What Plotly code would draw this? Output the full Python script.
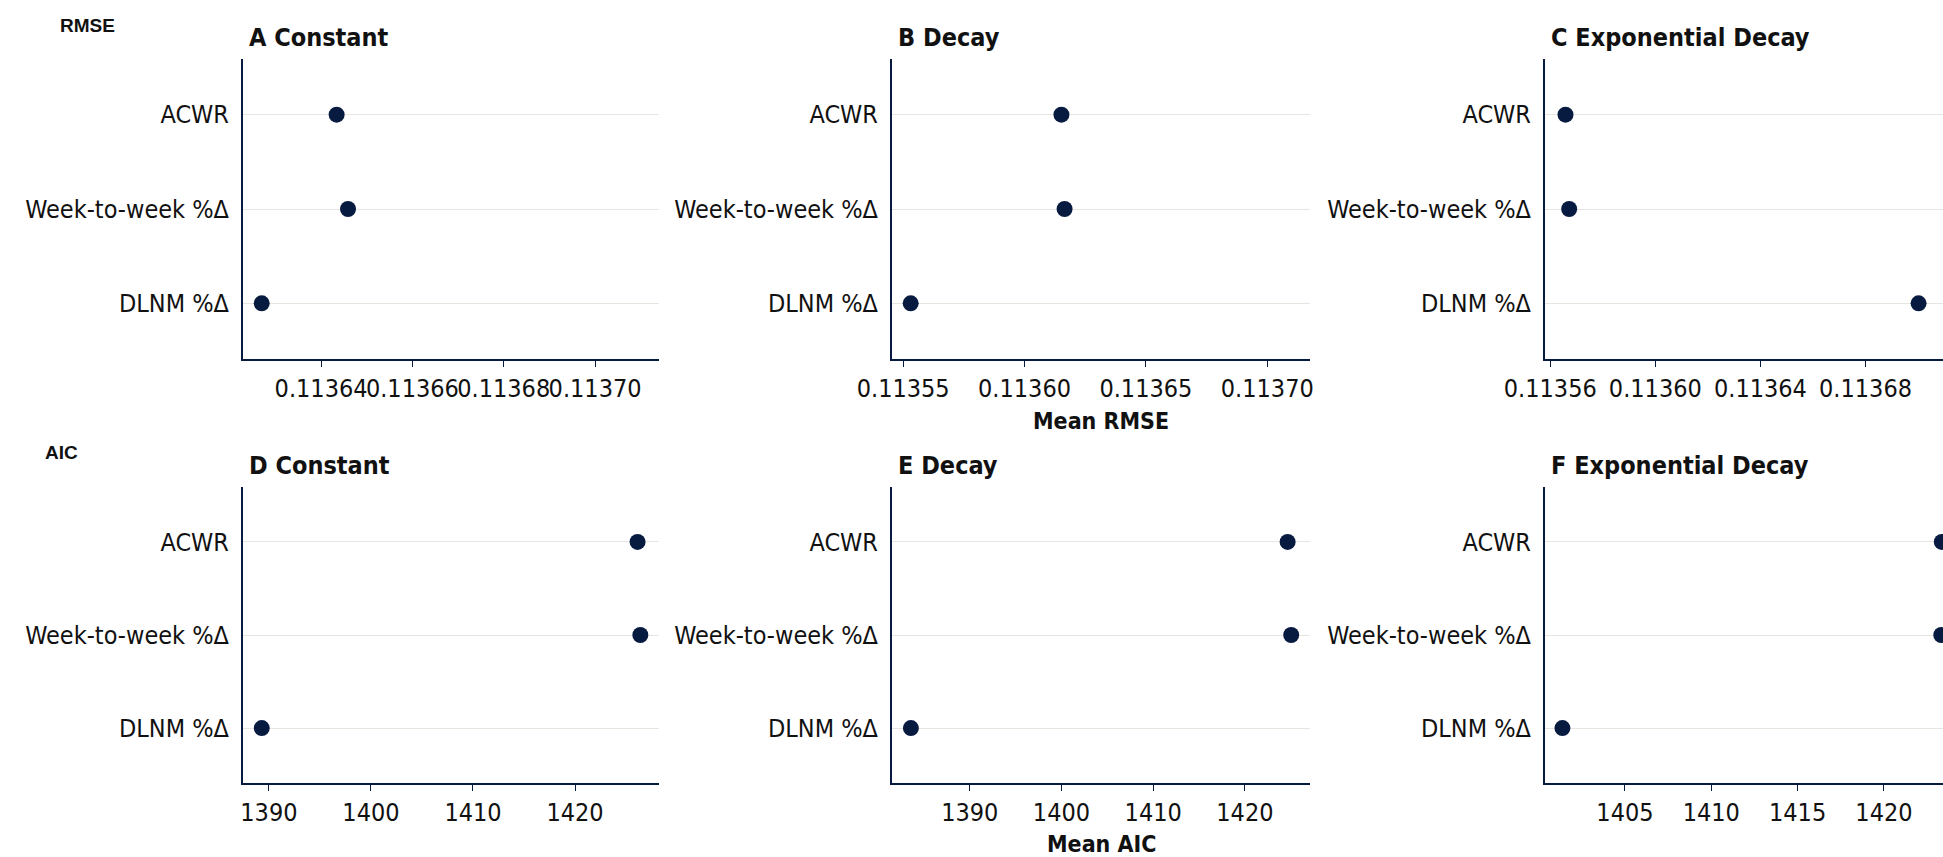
import plotly.graph_objects as go

# ---------------- data ----------------
categories = ["DLNM %Δ", "Week-to-week %Δ", "ACWR"]

rmse_constant = [0.1136270, 0.1136459, 0.1136434]
rmse_decay = [0.1135531, 0.1136165, 0.1136152]
rmse_exp_decay = [0.1137002, 0.1135672, 0.1135658]

aic_constant = [1389.30, 1426.40, 1426.13]
aic_decay = [1383.58, 1425.05, 1424.66]
aic_exp_decay = [1401.38, 1423.32, 1423.35]

panel_titles = ["A Constant", "B Decay", "C Exponential Decay",
                "D Constant", "E Decay", "F Exponential Decay"]
row_headers = ["RMSE", "AIC"]
axis_titles = ["Mean RMSE", "Mean AIC"]

# ---------------- style / layout ----------------
W, H = 1943, 857
NAVY = "#071a40"
GRID = "#e8e5e1"
FONT = "DejaVu Sans Condensed, DejaVu Sans, sans-serif"
TICK_SIZE = 25


def fx(p):
    return min(p / W, 1.0)


def fy(p):
    return (H - p) / H


col_px = [(243, 659), (892, 1310), (1545, 1943)]
row_px = [(59, 359), (487, 783)]

x_ranges = [
    [0.1136229, 0.1137140],
    [0.1135454, 0.1137176],
    [0.1135580, 0.1137095],
    [1387.46, 1428.23],
    [1381.52, 1427.10],
    [1400.37, 1423.42],
]
x_dticks = [0.00002, 0.00005, 0.00004, 10, 10, 5]
x_formats = [".5f", ".5f", ".5f", "d", "d", "d"]

series = [rmse_constant, rmse_decay, rmse_exp_decay,
          aic_constant, aic_decay, aic_exp_decay]

fig = go.Figure()
layout = dict(
    width=W, height=H,
    margin=dict(l=0, r=0, t=0, b=0, autoexpand=False),
    paper_bgcolor="white", plot_bgcolor="white",
    showlegend=False,
    font=dict(family=FONT, color="#111111", size=TICK_SIZE),
)
annotations = []

for i, vals in enumerate(series):
    n = i + 1
    r, c = divmod(i, 3)
    xs = "" if n == 1 else str(n)
    fig.add_trace(go.Scatter(
        x=vals, y=categories, mode="markers",
        marker=dict(size=16, color=NAVY),
        xaxis="x" + xs, yaxis="y" + xs,
        hoverinfo="x+y",
    ))
    x0, x1 = col_px[c]
    y0, y1 = row_px[r]
    layout["xaxis" + xs] = dict(
        domain=[fx(x0), fx(x1)], anchor="y" + xs,
        range=x_ranges[i], dtick=x_dticks[i], tick0=0,
        tickformat=x_formats[i], tickangle=0, automargin=False,
        showgrid=False, zeroline=False,
        showline=True, linecolor=NAVY, linewidth=2,
        ticks="outside", ticklen=6, tickcolor=NAVY, tickwidth=1,
        tickfont=dict(family=FONT, size=TICK_SIZE, color="#111111"),
    )
    layout["yaxis" + xs] = dict(
        domain=[fy(y1), fy(y0)], anchor="x" + xs,
        type="category", categoryorder="array", categoryarray=categories,
        range=[-0.59, 2.59], automargin=False,
        showgrid=True, gridcolor=GRID, gridwidth=1, zeroline=False,
        showline=True, linecolor=NAVY, linewidth=2,
        ticks="", ticklabelstandoff=7,
        tickfont=dict(family=FONT, size=TICK_SIZE, color="#111111"),
    )
    annotations.append(dict(
        text="<b>" + panel_titles[i] + "</b>",
        xref="paper", yref="paper",
        x=fx(x0 + 4), y=fy(37 if r == 0 else 465),
        xanchor="left", yanchor="middle", showarrow=False,
        font=dict(family=FONT, size=25, color="#111111"),
    ))

# row headers
annotations.append(dict(text="<b>" + row_headers[0] + "</b>", xref="paper", yref="paper",
                        x=fx(58), y=fy(25), xanchor="left", yanchor="middle",
                        showarrow=False,
                        font=dict(family="Liberation Sans, Arial", size=19, color="#111111")))
annotations.append(dict(text="<b>" + row_headers[1] + "</b>", xref="paper", yref="paper",
                        x=fx(43), y=fy(453), xanchor="left", yanchor="middle",
                        showarrow=False,
                        font=dict(family="Liberation Sans, Arial", size=19, color="#111111")))

# axis titles under middle column
mid = (col_px[1][0] + col_px[1][1]) / 2
annotations.append(dict(text="<b>" + axis_titles[0] + "</b>", xref="paper", yref="paper",
                        x=fx(mid), y=fy(421), xanchor="center", yanchor="middle",
                        showarrow=False, font=dict(family=FONT, size=23, color="#111111")))
annotations.append(dict(text="<b>" + axis_titles[1] + "</b>", xref="paper", yref="paper",
                        x=fx(mid), y=fy(844), xanchor="center", yanchor="middle",
                        showarrow=False, font=dict(family=FONT, size=23, color="#111111")))

layout["annotations"] = annotations
fig.update_layout(**layout)
fig.write_html(
    "out.html",
    config={"displayModeBar": False},
    post_script="document.body.style.margin='0';"
                "document.documentElement.style.overflow='hidden';"
                "document.body.style.overflow='hidden';",
)
